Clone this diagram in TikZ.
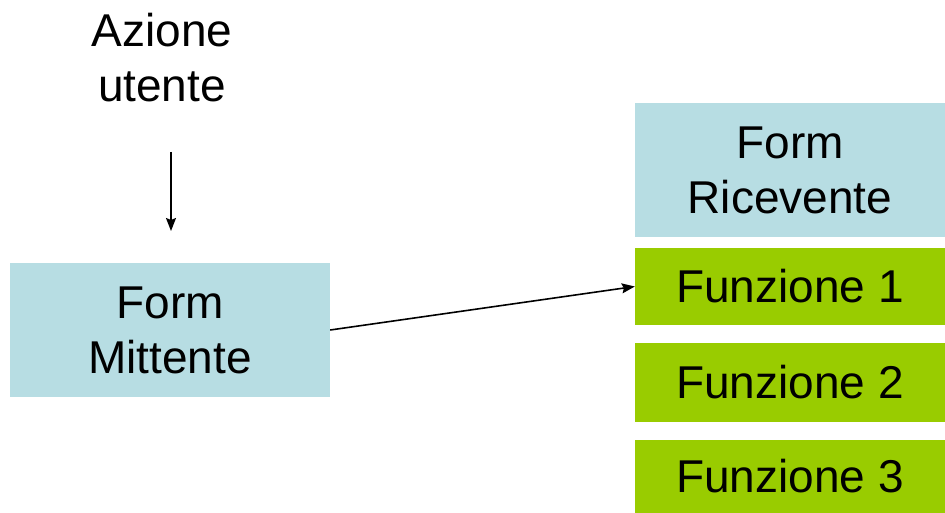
\documentclass[tikz,border=0pt]{standalone}
\usepackage{fontspec}
\setmainfont{Liberation Sans}
\usetikzlibrary{arrows.meta}
\definecolor{boxblue}{HTML}{B7DDE3}
\definecolor{boxgreen}{HTML}{99CC00}
\begin{document}
\begin{tikzpicture}[x=1pt,y=-1pt,
  lbl/.style={font=\fontsize{46}{55}\selectfont, align=center, inner sep=0pt},
  bluebox/.style={lbl, fill=boxblue, rectangle},
  greenbox/.style={lbl, fill=boxgreen, rectangle},
  arr/.style={line width=1.6pt, -{Stealth[length=13pt,width=10pt,inset=2pt]}}]
\useasboundingbox (0,0) rectangle (945,513);
\fill[white] (0,0) rectangle (945,513);
% boxes
\node[bluebox, minimum width=320pt, minimum height=134pt] (mittente) at (170,330) {Form\\Mittente};
\node[bluebox, minimum width=310pt, minimum height=134pt] (ricevente) at (790,170) {Form\\Ricevente};
\node[greenbox, minimum width=310pt, minimum height=77pt] (f1) at (790,286.5) {Funzione 1};
\node[greenbox, minimum width=310pt, minimum height=79pt] (f2) at (790,382.5) {Funzione 2};
\node[greenbox, minimum width=310pt, minimum height=73pt] (f3) at (790,476.5) {Funzione 3};
% user action
\node[lbl] (azione) at (162,58) {Azione\\utente};
\coordinate (a1) at (171,152);
\coordinate (a2) at (171,231);
\draw[arr] (a1) -- (a2);
\draw[arr] (mittente.east) -- (f1.west);
\end{tikzpicture}
\end{document}
